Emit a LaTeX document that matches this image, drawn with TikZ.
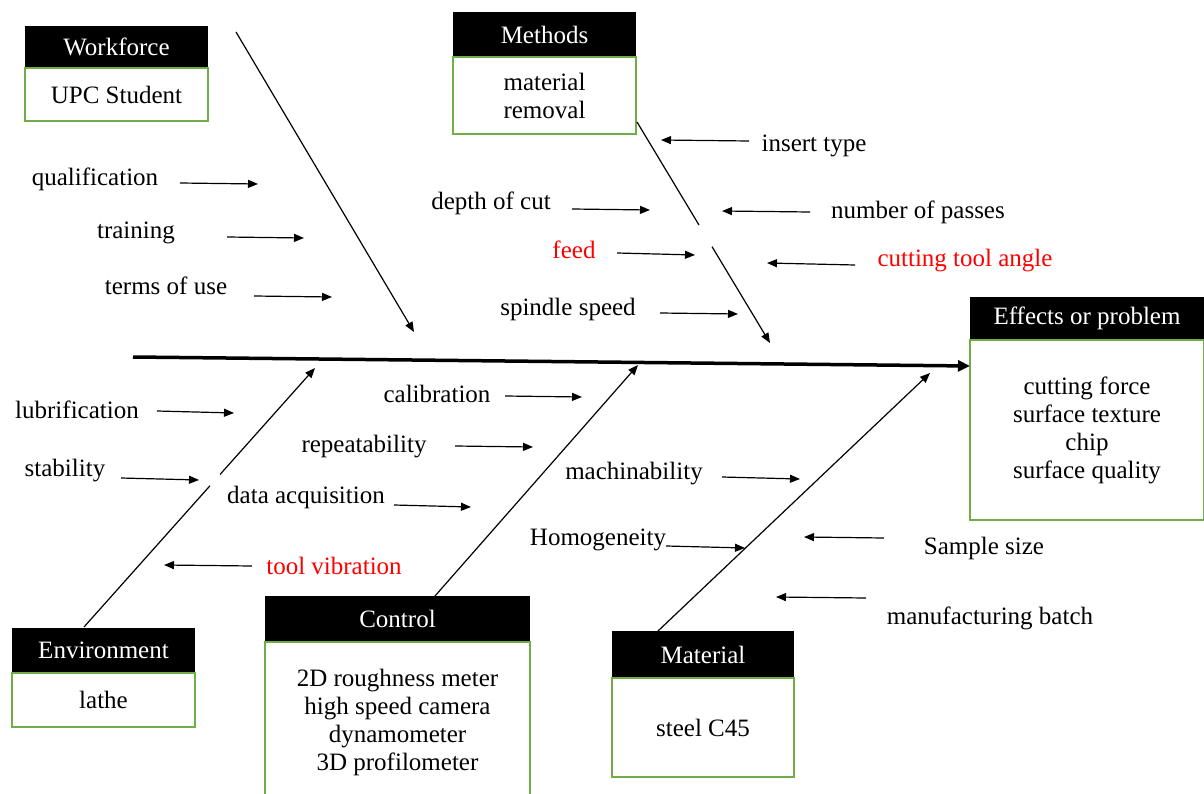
\documentclass[tikz,border=0pt]{standalone}
\usepackage{fontspec}
\setmainfont{Liberation Serif}
\usetikzlibrary{arrows.meta,calc}
\definecolor{boxgreen}{RGB}{112,173,71}

\begin{document}
\begin{tikzpicture}[
    x=1pt, y=-1pt,
    font=\fontsize{25}{28}\selectfont,
    % Style for the black category headers
    head/.style={
        fill=black, text=white,
        inner sep=0pt, outer sep=0pt,
        anchor=north west
    },
    % Style for the green boxes under the headers
    body/.style={
        draw=boxgreen, line width=1.3pt, fill=white,
        align=center, inner sep=0pt, outer sep=0pt,
        anchor=north west
    },
    % Style for the main spine
    spine/.style={
        line width=3.5pt,
        -{Triangle[length=12pt, width=11pt]}
    },
    % Style for the bones and the cause arrows
    bone/.style={
        line width=1.2pt,
        -{Triangle[length=10pt, width=8pt]}
    },
    % Style for the causes printed in red
    hot/.style={text=red}
]
\useasboundingbox (0,0) rectangle (1204,794);

% --- Boxes ---
\node[head, minimum width=183pt, minimum height=42pt] (workHead) at (25,26) {Workforce};
\node[body, minimum width=183pt, minimum height=53pt] (workBody) at (workHead.south west) {UPC Student};

\node[head, minimum width=183pt, minimum height=45pt] (methHead) at (453,12) {Methods};
\node[body, minimum width=183pt, minimum height=77pt] (methBody) at (methHead.south west) {material\\removal};

\node[head, minimum width=234pt, minimum height=43pt] (effHead) at (970,297) {Effects or problem};
\node[body, minimum width=234pt, minimum height=180pt] (effBody) at (effHead.south west) {cutting force\\surface texture\\chip\\surface quality};

\node[head, minimum width=183pt, minimum height=45pt] (envHead) at (12,628) {Environment};
\node[body, minimum width=183pt, minimum height=54pt] (envBody) at (envHead.south west) {lathe};

\node[head, minimum width=265pt, minimum height=46pt] (ctrlHead) at (265,596) {Control};
\node[body, minimum width=265pt, minimum height=160pt] (ctrlBody) at (ctrlHead.south west) {2D roughness meter\\high speed camera\\dynamometer\\3D profilometer};

\node[head, minimum width=182pt, minimum height=47pt] (matHead) at (612,631) {Material};
\node[body, minimum width=182pt, minimum height=99pt] (matBody) at (matHead.south west) {steel C45};

% --- Spine ---
\coordinate (spineTail) at (133,357);
\draw[spine] (spineTail) -- ([yshift=-26pt]effBody.north west);

% --- Bones ---
\coordinate (workRoot) at (236,32);
\coordinate (workTip) at (414,332);
\draw[bone] (workRoot) -- (workTip);

\coordinate (methRoot) at (637,122);
\coordinate (methTip) at (770,343);
\draw[line width=1.2pt] (methRoot) -- ($(methRoot)!0.466!(methTip)$);
\draw[bone] ($(methRoot)!0.564!(methTip)$) -- (methTip);

\coordinate (envRoot) at (84,627);
\coordinate (envTip) at (315,368);
\draw[line width=1.2pt] (envRoot) -- ($(envRoot)!0.545!(envTip)$);
\draw[bone] ($(envRoot)!0.589!(envTip)$) -- (envTip);

\coordinate (ctrlRoot) at (435,596);
\coordinate (ctrlTip) at (638,365);
\draw[bone] (ctrlRoot) -- (ctrlTip);

\coordinate (matRoot) at (658,631);
\coordinate (matTip) at (930,373);
\draw[bone] (matRoot) -- (matTip);

% --- Workforce causes ---
\node (qual) at (95,179) {qualification};
\node (train) at (136,233) {training};
\node (terms) at (166,286) {terms of use};
\draw[bone] (180,183) coordinate (qualA) -- (258,184) coordinate (qualB);
\draw[bone] (227,237) coordinate (trainA) -- (304,238) coordinate (trainB);
\draw[bone] (254,296) coordinate (termsA) -- (332,297) coordinate (termsB);

% --- Methods causes ---
\node (depth) at (491,203) {depth of cut};
\node[hot] (feed) at (574,250) {feed};
\node (spindle) at (568,309) {spindle speed};
\node (insert) at (814,146) {insert type};
\node (passes) at (918,212) {number of passes};
\node[hot] (angle) at (965,261) {cutting tool angle};
\draw[bone] (572,209) coordinate (depthA) -- (650,210) coordinate (depthB);
\draw[bone] (617,253) coordinate (feedA) -- (695,255) coordinate (feedB);
\draw[bone] (660,313) coordinate (spindleA) -- (738,314) coordinate (spindleB);
\draw[bone] (749,141) coordinate (insertA) -- (661,140) coordinate (insertB);
\draw[bone] (810,212) coordinate (passesA) -- (722,211) coordinate (passesB);
\draw[bone] (855,265) coordinate (angleA) -- (767,263) coordinate (angleB);

% --- Environment causes ---
\node (lubri) at (77,410) {lubrification};
\node (stab) at (65,471) {stability};
\node[hot] (vib) at (334,566) {tool vibration};
\draw[bone] (157,411) coordinate (lubriA) -- (234,413) coordinate (lubriB);
\draw[bone] (121,478) coordinate (stabA) -- (199,480) coordinate (stabB);
\draw[bone] (252,566) coordinate (vibA) -- (164,565) coordinate (vibB);

% --- Control causes ---
\node (calib) at (437,394) {calibration};
\node (repeat) at (364,447) {repeatability};
\node (daq) at (306,497) {data acquisition};
\draw[bone] (505,396) coordinate (calibA) -- (582,397) coordinate (calibB);
\draw[bone] (455,446) coordinate (repeatA) -- (533,447) coordinate (repeatB);
\draw[bone] (394,505) coordinate (daqA) -- (471,507) coordinate (daqB);

% --- Material causes ---
\node (machin) at (634,474) {machinability};
\node (homog) at (598,540) {Homogeneity};
\node (sample) at (984,548) {Sample size};
\node (batch) at (990,618) {manufacturing batch};
\draw[bone] (722,477) coordinate (machinA) -- (800,479) coordinate (machinB);
\draw[bone] (666,546) coordinate (homogA) -- (745,548) coordinate (homogB);
\draw[bone] (884,538) coordinate (sampleA) -- (804,537) coordinate (sampleB);
\draw[bone] (866,598) coordinate (batchA) -- (776,597) coordinate (batchB);

\end{tikzpicture}
\end{document}
